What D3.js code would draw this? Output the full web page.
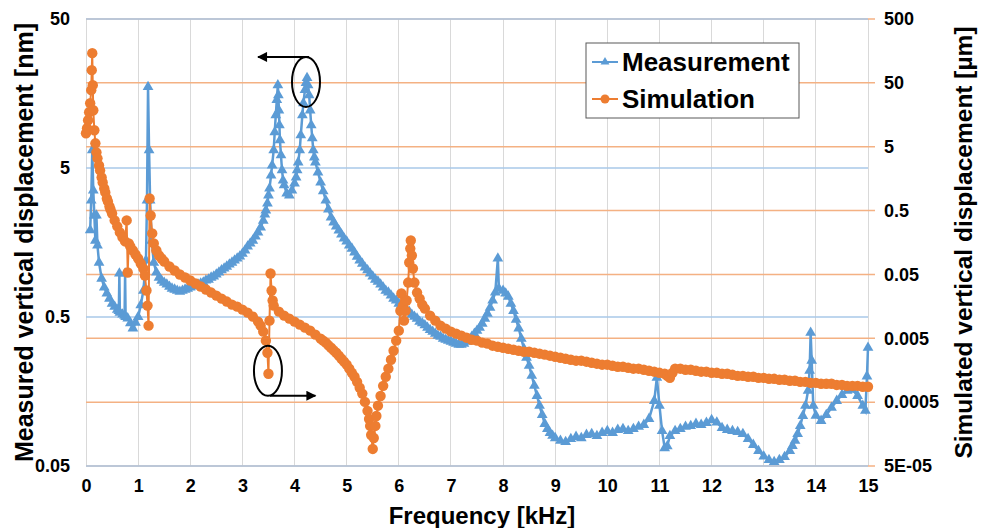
<!DOCTYPE html>
<html>
<head>
<meta charset="utf-8">
<script src="https://cdnjs.cloudflare.com/ajax/libs/d3/7.8.5/d3.min.js"></script>
<style>
  body { margin: 0; background: #fff; }
  svg { font-family: "Liberation Sans", Arial, sans-serif; font-weight: bold; }
</style>
</head>
<body>
<script>
// Measurement (left axis, nm)
const measFreq = [0.08,0.10,0.12,0.14,0.16,0.18,0.20,0.22,0.25,0.30,0.35,0.40,0.45,0.50,0.55,0.60,0.63,0.64,0.65,0.70,0.74,0.75,0.76,0.80,0.85,0.90,0.95,1.00,1.05,1.10,1.15,1.17,1.19,1.21,1.23,1.26,1.30,
  1.35,1.40,1.45,1.50,1.55,1.60,1.65,1.70,1.75,1.80,1.85,1.90,1.95,2.00,2.05,2.10,2.15,2.20,2.25,2.30,2.35,2.40,2.45,2.50,2.55,2.60,2.65,2.70,2.75,2.80,2.85,2.90,2.95,3.00,3.05,3.10,3.15,3.20,3.25,3.30,3.35,3.40,3.43,3.45,3.48,3.50,3.52,3.55,3.57,3.60,3.62,3.64,3.66,3.68,3.69,3.70,3.71,3.72,3.74,3.76,3.78,3.80,3.85,3.90,3.95,
  4.00,4.03,4.05,4.07,4.10,4.12,4.15,4.17,4.20,4.22,4.24,4.26,4.28,4.30,4.32,4.34,4.36,4.38,4.40,4.45,4.50,4.55,4.60,4.65,4.70,4.75,4.80,4.85,4.90,4.95,5.00,5.05,5.10,5.15,5.20,5.25,5.30,5.35,5.40,5.45,5.50,5.55,5.60,5.65,5.70,5.75,5.80,5.85,5.90,5.95,
  6.00,6.05,6.10,6.15,6.20,6.25,6.30,6.35,6.40,6.45,6.50,6.55,6.60,6.65,6.70,6.75,6.80,6.85,6.90,6.95,7.00,7.05,7.10,7.15,7.20,7.25,7.30,7.35,7.40,7.45,7.50,7.55,7.60,7.65,7.70,7.75,7.80,7.85,7.90,7.92,8.00,8.05,8.10,8.15,8.20,8.25,8.30,8.35,8.40,8.45,8.50,8.55,8.60,8.65,8.70,8.75,8.80,8.85,8.90,8.95,
  9.0,9.1,9.2,9.3,9.4,9.5,9.6,9.7,9.8,9.9,10.0,10.1,10.2,10.3,10.4,10.5,10.6,10.7,10.8,10.9,10.95,11.0,11.05,11.1,11.15,11.2,11.3,11.4,11.5,11.6,11.7,11.8,11.9,12.0,12.1,12.2,12.3,12.4,12.5,12.6,12.7,12.8,12.9,13.0,13.1,13.2,13.3,13.4,13.5,13.55,13.6,13.65,13.7,13.75,13.8,13.85,13.88,13.9,13.92,13.95,
  14.0,14.1,14.2,14.3,14.4,14.5,14.6,14.7,14.8,14.9,14.95,14.98,15.0];
const measVal = [1.91,3.03,6.58,3.54,2.40,1.63,2.40,1.51,1.16,0.906,0.79,0.72,0.665,0.615,0.587,0.56,0.55,0.98,0.535,0.52,0.51,0.98,0.50,0.49,0.455,0.42,0.458,0.50,0.60,0.75,1.20,3.03,17.5,6.58,3.03,1.63,1.16,
  0.995,0.92,0.878,0.85,0.826,0.80,0.776,0.764,0.752,0.74,0.752,0.764,0.776,0.79,0.801,0.81,0.826,0.84,0.852,0.88,0.892,0.92,0.935,0.965,0.9945,1.03,1.058,1.09,1.126,1.16,1.198,1.235,1.274,1.33,1.398,1.49,1.558,1.63,1.737,1.85,1.996,2.22,2.44,2.60,2.894,3.28,3.65,4.46,5.21,6.58,8.69,11.3,14.3,18.0,15.4,12.2,9.69,7.68,6.09,4.83,4.13,3.83,3.38,3.28,3.54,
  3.94,4.33,4.83,5.46,6.58,8.30,11.3,13.6,16.7,18.6,20.1,18.0,15.4,12.2,9.69,7.92,6.58,5.90,5.46,4.68,4.0,3.49,3.03,2.64,2.33,2.16,2.03,1.905,1.79,1.684,1.61,1.511,1.44,1.356,1.27,1.198,1.14,1.075,1.03,0.98,0.935,0.892,0.865,0.826,0.79,0.752,0.73,0.697,0.665,0.645,
  0.615,0.60,0.58,0.56,0.543,0.519,0.503,0.488,0.465,0.455,0.44,0.424,0.41,0.399,0.386,0.375,0.369,0.358,0.352,0.347,0.342,0.336,0.331,0.326,0.326,0.331,0.342,0.352,0.369,0.386,0.405,0.424,0.452,0.488,0.527,0.578,0.645,0.73,1.235,0.776,0.75,0.72,0.686,0.615,0.55,0.48,0.42,0.358,0.306,0.2667,0.236,0.2018,0.173,0.148,0.127,0.1103,0.096,0.0888,0.0835,0.080,
  0.077,0.074,0.0726,0.076,0.0785,0.077,0.081,0.082,0.0795,0.0835,0.086,0.0835,0.0875,0.0888,0.086,0.0888,0.0917,0.0945,0.1037,0.137,0.196,0.127,0.086,0.066,0.068,0.0795,0.086,0.0888,0.0917,0.093,0.096,0.0945,0.0975,0.102,0.098,0.090,0.0875,0.086,0.0847,0.082,0.076,0.0694,0.0632,0.058,0.055,0.0533,0.055,0.0575,0.0632,0.0683,0.074,0.082,0.093,0.1086,0.127,0.160,0.218,0.392,0.255,0.127,
  0.109,0.1005,0.110,0.123,0.137,0.150,0.16,0.163,0.148,0.127,0.1175,0.2,0.311];

// Simulation (right axis, µm)
const simFreq = [0.00,0.02,0.04,0.06,0.08,0.10,0.11,0.12,0.13,0.14,0.16,0.18,0.20,0.22,0.25,0.27,0.30,0.32,0.35,0.37,0.40,0.42,0.45,0.47,0.50,0.55,0.60,0.65,0.70,0.75,0.78,0.80,0.82,0.85,0.90,0.95,1.00,1.05,1.10,1.13,1.16,1.18,1.20,1.22,1.24,1.27,1.30,1.35,1.40,1.45,1.50,
  1.60,1.70,1.80,1.90,2.00,2.10,2.20,2.30,2.40,2.50,2.60,2.70,2.80,2.90,3.00,3.10,3.20,3.30,3.35,3.40,3.45,3.48,3.50,3.52,3.54,3.56,3.58,3.60,3.70,3.80,3.90,4.00,4.10,4.20,4.30,4.40,4.50,4.55,4.60,4.65,4.70,4.75,4.80,4.85,4.90,4.95,
  5.00,5.05,5.10,5.15,5.20,5.25,5.30,5.35,5.40,5.43,5.45,5.47,5.50,5.52,5.55,5.57,5.60,5.65,5.70,5.75,5.80,5.85,5.90,5.95,6.00,6.03,6.05,6.08,6.10,6.13,6.15,6.18,6.20,6.22,6.23,6.25,6.27,6.30,6.35,6.40,6.45,6.50,6.60,6.70,6.80,6.90,
  7.00,7.10,7.20,7.30,7.40,7.50,7.60,7.70,7.80,7.90,8.0,8.1,8.2,8.3,8.4,8.5,8.6,8.7,8.8,8.9,9.0,9.1,9.2,9.3,9.4,9.5,9.6,9.7,9.8,9.9,10.0,10.1,10.2,10.3,10.4,10.5,10.6,10.7,10.8,10.9,11.0,11.1,11.15,11.2,11.25,11.3,11.4,11.5,11.6,11.7,11.8,11.9,
  12.0,12.1,12.2,12.3,12.4,12.5,12.6,12.7,12.8,12.9,13.0,13.1,13.2,13.3,13.4,13.5,13.6,13.7,13.8,13.9,14.0,14.1,14.2,14.3,14.4,14.5,14.6,14.7,14.8,14.9,15.0];
const simVal = [8.11,9.72,13.0,17.3,24.0,38.4,79.1,146,46.0,18.6,9.04,5.65,4.08,3.29,2.55,2.13,1.654,1.38,1.11,0.962,0.774,0.695,0.580,0.52,0.450,0.351,0.283,0.2276,0.190,0.1644,0.351,0.0536,0.1529,0.1372,0.1187,0.1027,0.0889,0.0742,0.0619,0.0481,0.0280,0.01626,0.00789,0.774,0.419,0.2195,0.1529,0.1187,0.0991,0.0887,0.0797,
  0.0666,0.0576,0.0498,0.0447,0.0401,0.0360,0.0323,0.0290,0.0260,0.0233,0.0209,0.0188,0.01685,0.01568,0.01406,0.01262,0.01092,0.00912,0.00789,0.00635,0.00459,0.00297,0.00139,0.00945,0.0517,0.0280,0.0195,0.01626,0.01309,0.01132,0.01016,0.00912,0.00818,0.00734,0.00658,0.00570,0.00493,0.00459,0.00427,0.00388,0.00356,0.00324,0.00297,0.00267,0.00239,0.00215,
  0.00193,0.00167,0.00144,0.00125,0.00104,0.00084,0.00068,0.000504,0.000365,0.000272,0.000212,0.000153,0.0000925,0.000137,0.000212,0.000303,0.00044,0.000625,0.0009,0.00125,0.00167,0.00231,0.00319,0.00459,0.00658,0.0135,0.0251,0.01626,0.00945,0.0135,0.0195,0.0373,0.0769,0.127,0.170,0.0991,0.0619,0.0373,0.0260,0.0209,0.01685,0.01458,0.01132,0.00945,0.00789,0.00708,
  0.00635,0.00591,0.00550,0.00511,0.00475,0.00459,0.00427,0.00412,0.00383,0.00369,0.00356,0.00343,0.00331,0.00319,0.00308,0.00308,0.00297,0.00287,0.00277,0.00267,0.00257,0.00248,0.00239,0.00231,0.00223,0.00223,0.00215,0.00207,0.00200,0.00193,0.00193,0.00186,0.00179,0.00179,0.00173,0.00167,0.00167,0.00161,0.00155,0.00150,0.00144,0.00139,0.00129,0.00120,0.00144,0.00167,0.00167,0.00161,0.00161,0.00155,0.00150,0.00150,
  0.00144,0.00144,0.00139,0.00139,0.00134,0.00129,0.00129,0.00125,0.00125,0.00120,0.00120,0.00116,0.00116,0.00112,0.00112,0.00108,0.00108,0.00104,0.00104,0.00100,0.00100,0.00097,0.00097,0.00097,0.00093,0.00093,0.00090,0.00090,0.00090,0.00087,0.00087];

// tick values / labels
const xTicks = [0,1,2,3,4,5,6,7,8,9,10,11,12,13,14,15];
const leftTicks = [0.05, 0.5, 5, 50];
const rightTicks = [5e-5, 5e-4, 0.005, 0.05, 0.5, 5, 50, 500];
const rightTickLabels = ["5E-05", "0.0005", "0.005", "0.05", "0.5", "5", "50", "500"];
const seriesNames = ["Measurement", "Simulation"];

// annotations: ellipse centre (freq, value) and arrow end freq
const noteLeft = {f: 4.22, v: 18.9, toF: 3.3};      // left axis
const noteRight = {f: 3.49, v: 0.00155, toF: 4.4};  // right axis

const blue = "#5b9bd5", orange = "#ed7d31";

// chart dimensions/margins
const margin = {top: 19, right: 118, bottom: 62, left: 86},
      width = 986 - margin.left - margin.right,
      height = 528 - margin.top - margin.bottom;

const svg = d3.select("body").append("svg")
    .attr("width", 986)
    .attr("height", 528)
  .append("g")
    .attr("transform", `translate(${margin.left},${margin.top})`);

// scales
const x = d3.scaleLinear().domain([0, 15]).range([0, width]);
const yLeft = d3.scaleLog().domain([0.05, 50]).range([height, 0]);
const yRight = d3.scaleLog().domain([5e-5, 500]).range([height, 0]);

// grid
svg.append("g")
  .selectAll("line")
  .data(xTicks)
  .join("line")
    .attr("x1", d => x(d)).attr("x2", d => x(d))
    .attr("y1", 0).attr("y2", height)
    .attr("stroke", "#d9d9d9")
    .attr("shape-rendering", "crispEdges");

svg.append("g")
  .selectAll("line")
  .data(rightTicks)
  .join("line")
    .attr("x1", 0).attr("x2", width + 7)
    .attr("y1", d => yRight(d)).attr("y2", d => yRight(d))
    .attr("stroke", "#f4b183")
    .attr("stroke-width", 1.5);

svg.append("g")
  .selectAll("line")
  .data(leftTicks)
  .join("line")
    .attr("x1", 0).attr("x2", width)
    .attr("y1", d => yLeft(d)).attr("y2", d => yLeft(d))
    .attr("stroke", "#a9c9e8")
    .attr("stroke-width", 1.5);

// axes
const styleAxis = g => {
  g.select(".domain").remove();
  g.selectAll("text").attr("fill", "#000").style("font-size", "18px").style("font-weight", "bold");
};

svg.append("g")
    .attr("transform", `translate(0,${height})`)
    .call(d3.axisBottom(x).tickValues(xTicks).tickSize(0).tickPadding(13))
    .call(styleAxis);

svg.append("g")
    .call(d3.axisLeft(yLeft).tickValues(leftTicks).tickFormat(d => String(d)).tickSize(0).tickPadding(16))
    .call(styleAxis);

svg.append("g")
    .attr("transform", `translate(${width},0)`)
    .call(d3.axisRight(yRight).tickValues(rightTicks).tickFormat((d, i) => rightTickLabels[i]).tickSize(0).tickPadding(16))
    .call(styleAxis);

// axis titles
svg.append("text")
    .attr("x", width / 2 + 5)
    .attr("y", height + 58)
    .attr("text-anchor", "middle")
    .style("font-size", "24px")
    .text("Frequency [kHz]");

svg.append("text")
    .attr("transform", `translate(${-53},${height / 2}) rotate(-90)`)
    .attr("text-anchor", "middle")
    .style("font-size", "25px")
    .text("Measured vertical displacement [nm]");

svg.append("text")
    .attr("transform", `translate(${width + 104},${height / 2}) rotate(-90)`)
    .attr("text-anchor", "middle")
    .style("font-size", "24.5px")
    .text("Simulated vertical displacement [µm]");

// measurement series
const meas = measFreq.map((f, i) => ({f, v: measVal[i]}));
const sim = simFreq.map((f, i) => ({f, v: simVal[i]}));

svg.append("path")
    .datum(meas)
    .attr("fill", "none")
    .attr("stroke", blue)
    .attr("stroke-width", 2.5)
    .attr("d", d3.line().x(d => x(d.f)).y(d => yLeft(d.v)));

svg.append("g")
  .selectAll("path")
  .data(meas)
  .join("path")
    .attr("transform", d => `translate(${x(d.f)},${yLeft(d.v)})`)
    .attr("d", d3.symbol(d3.symbolTriangle, 50))
    .attr("fill", blue);

// simulation series
svg.append("path")
    .datum(sim)
    .attr("fill", "none")
    .attr("stroke", orange)
    .attr("stroke-width", 2)
    .attr("d", d3.line().x(d => x(d.f)).y(d => yRight(d.v)));

svg.append("g")
  .selectAll("circle")
  .data(sim)
  .join("circle")
    .attr("cx", d => x(d.f))
    .attr("cy", d => yRight(d.v))
    .attr("r", 5.2)
    .attr("fill", orange);

// annotations (ellipse + arrow)
const defs = svg.append("defs");
defs.append("marker")
    .attr("id", "arrow")
    .attr("viewBox", "0 0 10 10")
    .attr("refX", 9).attr("refY", 5)
    .attr("markerWidth", 6).attr("markerHeight", 5)
    .attr("markerUnits", "strokeWidth")
    .attr("orient", "auto")
  .append("path")
    .attr("d", "M0,0L10,5L0,10Z")
    .attr("fill", "#000");

const cx1 = x(noteLeft.f), cy1 = yLeft(noteLeft.v);
svg.append("ellipse")
    .attr("cx", cx1).attr("cy", cy1).attr("rx", 14).attr("ry", 25)
    .attr("fill", "none").attr("stroke", "#000").attr("stroke-width", 2);
svg.append("line")
    .attr("x1", cx1 + 3).attr("y1", cy1 - 25)
    .attr("x2", x(noteLeft.toF)).attr("y2", cy1 - 25)
    .attr("stroke", "#000").attr("stroke-width", 2)
    .attr("marker-end", "url(#arrow)");

const cx2 = x(noteRight.f), cy2 = yRight(noteRight.v);
svg.append("ellipse")
    .attr("cx", cx2).attr("cy", cy2).attr("rx", 14).attr("ry", 25)
    .attr("fill", "none").attr("stroke", "#000").attr("stroke-width", 2);
svg.append("line")
    .attr("x1", cx2 + 2).attr("y1", cy2 + 25)
    .attr("x2", x(noteRight.toF)).attr("y2", cy2 + 25)
    .attr("stroke", "#000").attr("stroke-width", 2)
    .attr("marker-end", "url(#arrow)");

// legend
const legend = svg.append("g")
    .attr("transform", `translate(${500},${24})`);

legend.append("rect")
    .attr("width", 213).attr("height", 75)
    .attr("fill", "#fff")
    .attr("stroke", "#595959")
    .attr("stroke-width", 1);

legend.selectAll(".legend-item")
  .data(seriesNames)
  .join("g")
    .attr("class", "legend-item")
    .attr("transform", (d, i) => `translate(0, ${19 + i * 37})`)
  .call(g => {
    g.append("line")
      .attr("x1", 6).attr("x2", 32)
      .attr("stroke", (d, i) => i ? orange : blue)
      .attr("stroke-width", 2);
    g.filter((d, i) => i === 0).append("path")
      .attr("transform", "translate(19,0)")
      .attr("d", d3.symbol(d3.symbolTriangle, 34))
      .attr("fill", blue);
    g.filter((d, i) => i === 1).append("circle")
      .attr("cx", 19).attr("r", 4.5)
      .attr("fill", orange);
    g.append("text")
      .attr("x", 36)
      .attr("y", 9)
      .style("font-size", "26px")
      .text(d => d);
  });
</script>
</body>
</html>
